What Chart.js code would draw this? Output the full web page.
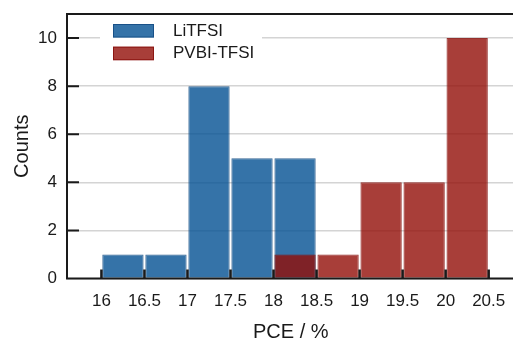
<!DOCTYPE html>
<html><head><meta charset="utf-8">
<script src="https://cdn.jsdelivr.net/npm/chart.js@4.4.0/dist/chart.umd.min.js"></script>
<style>
html,body{margin:0;padding:0;overflow:hidden;background:#fff;width:513px;height:338px}
#wrap{width:524px;height:338px}
</style></head>
<body><div id="wrap"><canvas id="c" width="524" height="338"></canvas></div>
<script>
// ---- data ----
const binStarts = [16, 16.5, 17, 17.5, 18, 18.5, 19, 19.5, 20];
const binWidth = 0.5;
const liTFSICounts = [1, 1, 8, 5, 5, 0, 0, 0, 0];
const pvbiCounts   = [0, 0, 0, 0, 1, 1, 4, 4, 10];
const xTicks = [16, 16.5, 17, 17.5, 18, 18.5, 19, 19.5, 20, 20.5];
const yTicks = [0, 2, 4, 6, 8, 10];
const seriesNames = ['LiTFSI', 'PVBI-TFSI'];

// ---- styles ----
const FAMILY = "'Liberation Sans', Arial, Helvetica, sans-serif";
const TXT = '#1a1a1a';
const BLUE = 'rgba(3,80,146,0.8)';
const BLUE_EDGE = 'rgba(20,75,130,0.85)';
const RED = 'rgba(146,14,8,0.8)';
const RED_EDGE = 'rgba(135,15,12,0.85)';

function toPoints(counts) {
  const pts = [];
  counts.forEach((c, i) => { if (c > 0) pts.push({ x: binStarts[i] + binWidth / 2, y: c }); });
  return pts;
}

const framePlugin = {
  id: 'frame',
  afterDatasetsDraw(chart) {
    const { ctx, chartArea: a, scales } = chart;
    ctx.save();
    ctx.strokeStyle = '#1a1a1a';
    ctx.lineWidth = 2;
    ctx.beginPath();
    ctx.moveTo(a.left, a.top); ctx.lineTo(a.right, a.top);
    ctx.moveTo(a.left, a.bottom); ctx.lineTo(a.right, a.bottom);
    ctx.moveTo(a.left, a.top - 1); ctx.lineTo(a.left, a.bottom + 1);
    ctx.moveTo(a.right, a.top - 1); ctx.lineTo(a.right, a.bottom + 1);
    yTicks.forEach(v => {
      const y = scales.y.getPixelForValue(v);
      ctx.moveTo(a.left, y); ctx.lineTo(a.left + 12, y);
    });
    ctx.stroke();
    ctx.lineWidth = 2.5;
    ctx.beginPath();
    xTicks.forEach(v => {
      const x = scales.x.getPixelForValue(v);
      ctx.moveTo(x, a.bottom); ctx.lineTo(x, a.bottom - 9);
    });
    ctx.stroke();
    ctx.restore();
  }
};

const legendPlugin = {
  id: 'customLegend',
  afterDraw(chart) {
    const { ctx } = chart;
    ctx.save();
    ctx.fillStyle = '#fff';
    ctx.fillRect(100, 18, 162, 50);
    const items = chart.data.datasets;
    items.forEach((ds, i) => {
      const y0 = 24 + i * 22.7;
      ctx.fillStyle = ds.backgroundColor;
      ctx.fillRect(113, y0, 41, 13.5);
      ctx.strokeStyle = ds.borderColor;
      ctx.lineWidth = 1;
      ctx.strokeRect(113.5, y0 + 0.5, 40, 12.5);
      ctx.fillStyle = TXT;
      ctx.font = '17px ' + FAMILY;
      ctx.textBaseline = 'middle';
      ctx.textAlign = 'left';
      ctx.fillText(ds.label, 173, y0 + 7);
    });
    ctx.restore();
  }
};

new Chart(document.getElementById('c'), {
  type: 'bar',
  data: {
    datasets: [
      { label: seriesNames[0], data: toPoints(liTFSICounts), backgroundColor: BLUE, borderColor: BLUE_EDGE, borderWidth: 1, order: 2 },
      { label: seriesNames[1], data: toPoints(pvbiCounts), backgroundColor: RED, borderColor: RED_EDGE, borderWidth: 1, order: 1 }
    ]
  },
  options: {
    responsive: false,
    animation: false,
    devicePixelRatio: 1,
    layout: { padding: { left: 0, right: 9.5, top: 14, bottom: 0 } },
    datasets: { bar: { grouped: false, barPercentage: 0.96, categoryPercentage: 1 } },
    plugins: { legend: { display: false }, tooltip: { enabled: false } },
    scales: {
      x: {
        type: 'linear', min: 15.6, max: 20.8, offset: false,
        grid: { display: false, drawTicks: false },
        border: { display: false },
        afterBuildTicks: s => { s.ticks = xTicks.map(v => ({ value: v })); },
        afterFit: s => { s.height = 59.5; s.paddingLeft = 0; s.paddingRight = 0; },
        ticks: { padding: 13, color: TXT, font: { size: 17, family: FAMILY }, maxRotation: 0, autoSkip: false, callback: v => String(v) },
        title: { display: true, text: 'PCE / %', color: TXT, font: { size: 20, family: FAMILY, lineHeight: 0.6 }, padding: 0 }
      },
      y: {
        min: 0, max: 11,
        grid: { color: '#d4d4d4', lineWidth: 1.5, drawTicks: false },
        border: { display: false },
        afterBuildTicks: s => { s.ticks = yTicks.map(v => ({ value: v })); },
        afterFit: s => { s.width = 67; s.paddingTop = 0; s.paddingBottom = 0; },
        ticks: { padding: 10, color: TXT, font: { size: 17, family: FAMILY }, callback: v => String(v) },
        title: { display: true, text: 'Counts', color: TXT, font: { size: 20, family: FAMILY, lineHeight: 1.2 }, padding: { top: 10, bottom: 0 } }
      }
    }
  },
  plugins: [framePlugin, legendPlugin]
});
</script>
</body></html>
